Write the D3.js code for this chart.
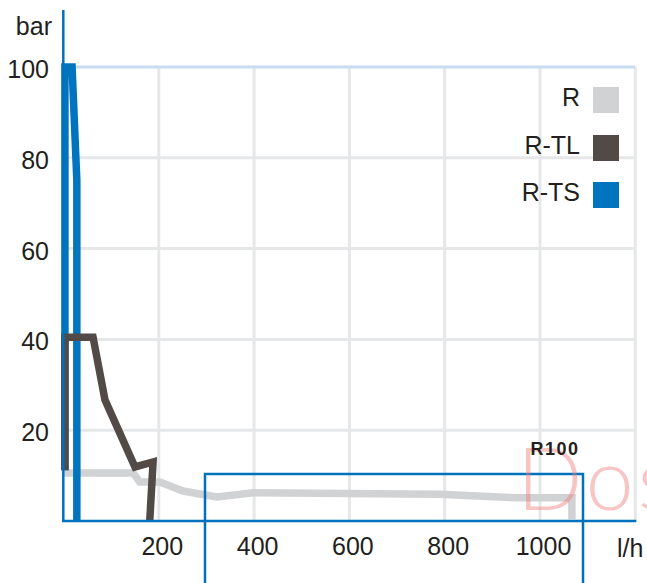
<!DOCTYPE html>
<html>
<head>
<meta charset="utf-8">
<script src="https://cdn.jsdelivr.net/npm/d3@7"></script>
<style>
    html, body { margin: 0; padding: 0; background: #fff; }
    svg { display: block; }
    text { font-family: "Liberation Sans", Arial, sans-serif; fill: #231f20; }
</style>
</head>
<body>
<svg id="chart" width="647" height="583"></svg>
<script>
// ===== DATA =====
const xTicks = [200, 400, 600, 800, 1000];
const xGrid  = [200, 400, 600, 800, 1000, 1200];
const yTicks = [20, 40, 60, 80, 100];

const seriesNames  = ['R', 'R-TL', 'R-TS'];
const seriesColors = ['#d1d2d4', '#524a46', '#0074bf'];

// R (flow l/h, pressure bar)
const rFlow   = [0, 146, 160, 202, 251, 322, 398, 790, 952, 1067, 1067];
const rPress  = [10.6, 10.6, 8.6, 8.6, 6.6, 5.3, 6.2, 5.9, 5.1, 5.1, 0.4];
// R-TL
const tlFlow  = [3, 3, 62, 87, 150, 188, 181];
const tlPress = [11.2, 40.5, 40.5, 26.7, 11.9, 13, 0];
// R-TS
const tsFlow  = [3, 3, 18, 28, 28];
const tsPress = [11.2, 100, 100, 75, 0];

// ===== SETUP =====
const svg = d3.select('#chart');
const blue = '#0072bc';
const labelFont = '"Liberation Sans", Arial, sans-serif';

const x = d3.scaleLinear().domain([0, 1200]).range([63.5, 635.3]);
const y = d3.scaleLinear().domain([0, 100]).range([521, 67]);

// Grid
svg.append('g')
    .selectAll('line')
    .data(xGrid)
    .enter().append('line')
    .attr('x1', d => x(d)).attr('x2', d => x(d))
    .attr('y1', y(100)).attr('y2', y(0))
    .attr('stroke', '#e6e7e8')
    .attr('stroke-width', 3);

svg.append('g')
    .selectAll('line')
    .data(yTicks)
    .enter().append('line')
    .attr('x1', x(0)).attr('x2', x(1200))
    .attr('y1', d => y(d)).attr('y2', d => y(d))
    .attr('stroke', d => d === 100 ? '#c8dbf0' : '#e6e7e8')
    .attr('stroke-width', 3);

// Series
const line = d3.line().x(d => x(d[0])).y(d => y(d[1]));
const series = [
    d3.zip(rFlow, rPress),
    d3.zip(tsFlow, tsPress),
    d3.zip(tlFlow, tlPress),
];
const seriesIdx = [0, 2, 1]; // draw order: R, R-TS, R-TL

series.forEach((pts, i) => {
    svg.append('path')
        .datum(pts)
        .attr('d', line)
        .attr('fill', 'none')
        .attr('stroke', seriesColors[seriesIdx[i]])
        .attr('stroke-width', 7.5)
        .attr('stroke-linejoin', 'miter')
        .attr('stroke-linecap', 'butt');
});

// Axes lines
svg.append('line')
    .attr('x1', 63.3).attr('x2', 63.3)
    .attr('y1', 10).attr('y2', y(0))
    .attr('stroke', blue).attr('stroke-width', 2.5);
svg.append('line')
    .attr('x1', 62).attr('x2', x(1200) + 1)
    .attr('y1', y(0)).attr('y2', y(0))
    .attr('stroke', blue).attr('stroke-width', 2.5);

// Axis labels via d3 axes
const yAxis = svg.append('g')
    .attr('transform', 'translate(63,0)')
    .call(d3.axisLeft(y).tickValues(yTicks).tickSize(0).tickPadding(14));
yAxis.select('.domain').remove();
yAxis.selectAll('text')
    .attr('font-size', 25)
    .attr('font-family', labelFont)
    .attr('fill', '#231f20')
    .attr('dy', '0.42em');

const xAxis = svg.append('g')
    .attr('transform', `translate(3,${y(0)})`)
    .call(d3.axisBottom(x).tickValues(xTicks).tickFormat(d3.format('d')).tickSize(0).tickPadding(16));
xAxis.select('.domain').remove();
xAxis.selectAll('text')
    .attr('font-size', 25)
    .attr('font-family', labelFont)
    .attr('fill', '#231f20');

svg.append('text')
    .attr('x', 52).attr('y', 35)
    .attr('text-anchor', 'end')
    .attr('font-size', 25)
    .text('bar');

svg.append('text')
    .attr('x', 617).attr('y', 557)
    .attr('font-size', 25)
    .text('l/h');

// Legend
const legendTop = [87, 135, 182];
seriesNames.forEach((name, i) => {
    svg.append('rect')
        .attr('x', 593).attr('y', legendTop[i])
        .attr('width', 26).attr('height', 26)
        .attr('fill', seriesColors[i]);
    svg.append('text')
        .attr('x', 580).attr('y', legendTop[i] + 18.5)
        .attr('text-anchor', 'end')
        .attr('font-size', 25)
        .text(name);
});

// R100 box + watermark
svg.append('rect')
    .attr('x', 205).attr('y', 474)
    .attr('width', 378).attr('height', 200)
    .attr('fill', 'none')
    .attr('stroke', blue)
    .attr('stroke-width', 2.5);

svg.append('text')
    .attr('x', 517).attr('y', 510)
    .attr('font-size', 86)
    .attr('font-weight', 300)
    .attr('letter-spacing', 4)
    .style('font-family', 'Lato, "Liberation Sans", sans-serif')
    .style('fill', '#f08080')
    .attr('opacity', 0.45)
    .text('Dos');

svg.append('text')
    .attr('x', 555).attr('y', 455)
    .attr('text-anchor', 'middle')
    .attr('font-size', 18)
    .attr('font-weight', 'bold')
    .attr('letter-spacing', 1.5)
    .text('R100');
</script>
</body>
</html>
